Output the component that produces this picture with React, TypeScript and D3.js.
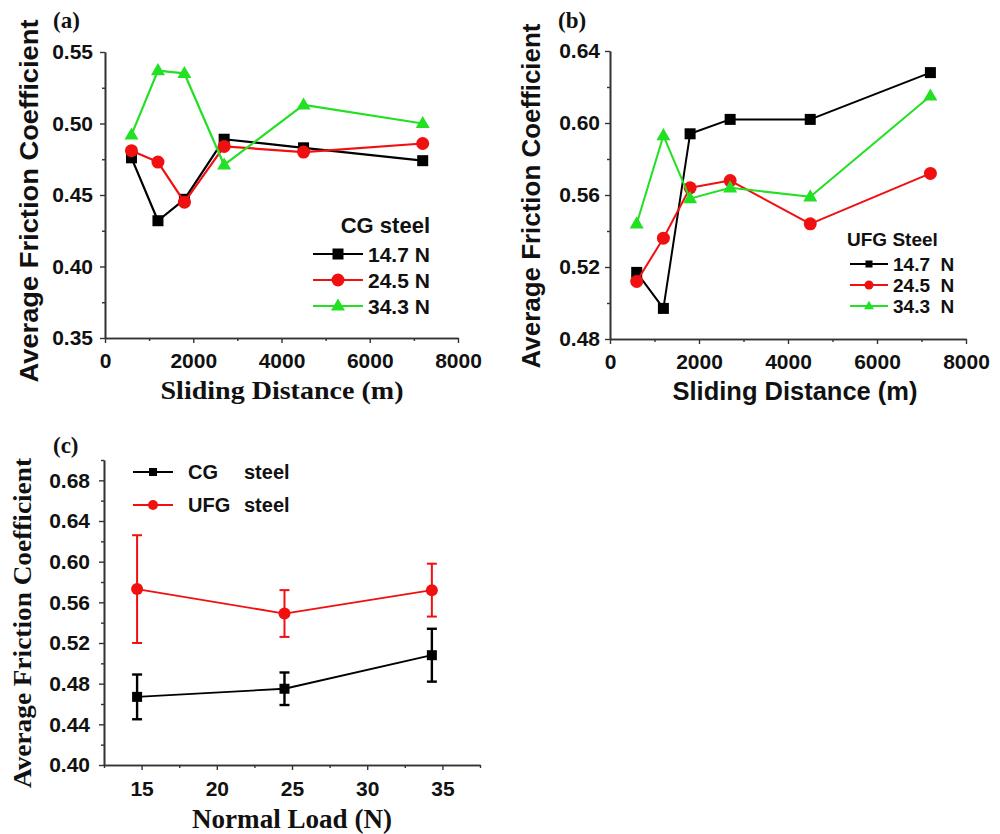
import * as d3 from "d3";
import { useEffect, useRef } from "react";

const WIDTH = 1000;
const HEIGHT = 834;

// panels (a) and (b): friction vs sliding distance
const DISTANCE = [600, 1200, 1800, 2700, 4500, 7200];
const LOAD_LABELS = ["14.7 N", "24.5 N", "34.3 N"];
const CG_147 = [0.476, 0.432, 0.447, 0.489, 0.483, 0.474];
const CG_245 = [0.481, 0.473, 0.445, 0.484, 0.48, 0.486];
const CG_343 = [0.492, 0.537, 0.535, 0.471, 0.513, 0.5];
const UFG_147 = [0.517, 0.497, 0.594, 0.602, 0.602, 0.628];
const UFG_245 = [0.512, 0.536, 0.564, 0.568, 0.544, 0.572];
const UFG_343 = [0.544, 0.593, 0.558, 0.564, 0.559, 0.615];

// panel (c): friction vs normal load
const LOADS = [14.7, 24.5, 34.3];
const STEEL_LABELS = ["CG", "UFG"];
const CG_MEAN = [0.467, 0.475, 0.508];
const CG_ERR = [0.022, 0.016, 0.026];
const UFG_MEAN = [0.573, 0.549, 0.572];
const UFG_ERR = [0.053, 0.023, 0.026];

const SANS = "Arial, 'Liberation Sans', sans-serif";
const SERIF = "'Times New Roman', 'Liberation Serif', serif";
const BLACK = "#000000";
const RED = "#f01010";
const GREEN = "#22e022";
const AXIS = "#333333";

type Sel = d3.Selection<SVGGElement, unknown, null, undefined>;

function drawMarker(g: Sel, shape: string, x: number, y: number, color: string, size: number) {
  if (shape === "square") {
    g.append("rect")
      .attr("x", x - size / 2)
      .attr("y", y - size / 2)
      .attr("width", size)
      .attr("height", size)
      .attr("fill", color);
  } else if (shape === "circle") {
    g.append("circle").attr("cx", x).attr("cy", y).attr("r", size / 2).attr("fill", color);
  } else {
    const h = (size * Math.sqrt(3)) / 2;
    g.append("path")
      .attr("d", `M${x},${y - h * 0.62}L${x + size / 2},${y + h * 0.38}L${x - size / 2},${y + h * 0.38}Z`)
      .attr("fill", color);
  }
}

function drawAxes(
  g: Sel,
  x: d3.ScaleLinear<number, number>,
  y: d3.ScaleLinear<number, number>,
  o: {
    xMajor: number[];
    xMinor: number[];
    yMajor: number[];
    yMinor: number[];
    xFmt: (d: number) => string;
    yPad: number;
    xPad: number;
  }
) {
  const [y0] = y.range();
  const [x0] = x.range();

  const minorY = g
    .append("g")
    .attr("transform", `translate(${x0},0)`)
    .call(d3.axisLeft(y).tickValues(o.yMinor).tickSize(3).tickSizeOuter(0).tickFormat(() => ""));
  const majorY = g
    .append("g")
    .attr("transform", `translate(${x0},0)`)
    .call(
      d3
        .axisLeft(y)
        .tickValues(o.yMajor)
        .tickSize(5)
        .tickSizeOuter(0)
        .tickPadding(o.yPad)
        .tickFormat((d) => d3.format(".2f")(d as number))
    );
  const minorX = g
    .append("g")
    .attr("transform", `translate(0,${y0})`)
    .call(d3.axisBottom(x).tickValues(o.xMinor).tickSize(3).tickSizeOuter(0).tickFormat(() => ""));
  const majorX = g
    .append("g")
    .attr("transform", `translate(0,${y0})`)
    .call(
      d3
        .axisBottom(x)
        .tickValues(o.xMajor)
        .tickSize(5)
        .tickSizeOuter(0)
        .tickPadding(o.xPad)
        .tickFormat((d) => o.xFmt(d as number))
    );

  for (const a of [minorY, majorY, minorX, majorX]) {
    a.select(".domain").attr("stroke", AXIS).attr("stroke-width", 1.6);
    a.selectAll(".tick line").attr("stroke", AXIS).attr("stroke-width", 1.4);
    a.selectAll(".tick text")
      .attr("fill", "#111")
      .style("font-family", SANS)
      .style("font-weight", "bold")
      .style("font-size", "21px");
  }
}

function drawSeries(
  g: Sel,
  x: d3.ScaleLinear<number, number>,
  y: d3.ScaleLinear<number, number>,
  xs: number[],
  ys: number[],
  color: string,
  shape: string,
  size: number,
  width: number
) {
  const line = d3
    .line<number>()
    .x((_, i) => x(xs[i]))
    .y((d) => y(d));
  g.append("path")
    .attr("d", line(ys) ?? "")
    .attr("fill", "none")
    .attr("stroke", color)
    .attr("stroke-width", width)
    .attr("stroke-linejoin", "round");
  ys.forEach((v, i) => drawMarker(g, shape, x(xs[i]), y(v), color, size));
}

function yTitle(g: Sel, text: string, cx: number, cy: number, len: number, size: number, font: string) {
  g.append("text")
    .attr("transform", `translate(${cx},${cy}) rotate(-90)`)
    .attr("text-anchor", "middle")
    .attr("textLength", len)
    .attr("lengthAdjust", "spacingAndGlyphs")
    .style("font-family", font)
    .style("font-weight", "bold")
    .style("font-size", `${size}px`)
    .attr("fill", "#111")
    .text(text);
}

function xTitle(g: Sel, text: string, cx: number, by: number, len: number, size: number, font: string) {
  g.append("text")
    .attr("x", cx)
    .attr("y", by)
    .attr("text-anchor", "middle")
    .attr("textLength", len)
    .attr("lengthAdjust", "spacingAndGlyphs")
    .style("font-family", font)
    .style("font-weight", "bold")
    .style("font-size", `${size}px`)
    .attr("fill", "#111")
    .text(text);
}

function panelTag(g: Sel, text: string, x: number, y: number) {
  g.append("text")
    .attr("x", x)
    .attr("y", y)
    .style("font-family", SERIF)
    .style("font-weight", "bold")
    .style("font-size", "23px")
    .attr("fill", "#111")
    .text(text);
}

export default function App() {
  const svgRef = useRef<SVGSVGElement>(null);

  useEffect(() => {
    const el = svgRef.current;
    if (!el) return;
    const svg = d3.select(el);
    svg.selectAll("*").remove();
    const root = svg.append("g") as unknown as Sel;

    const distMajor = d3.range(0, 8001, 2000);
    const distMinor = d3.range(1000, 8000, 2000);
    const shapes = ["square", "circle", "triangle"];
    const colors = [BLACK, RED, GREEN];

    // ---- (a) CG steel ----
    {
      const g = root.append("g") as Sel;
      const x = d3.scaleLinear().domain([0, 8000]).range([105, 458]);
      const y = d3.scaleLinear().domain([0.35, 0.55]).range([338, 52]);
      drawAxes(g, x, y, {
        xMajor: distMajor,
        xMinor: distMinor,
        yMajor: d3.range(0, 5).map((i) => 0.35 + i * 0.05),
        yMinor: d3.range(0, 4).map((i) => 0.375 + i * 0.05),
        xFmt: (d) => d3.format("d")(d),
        yPad: 7,
        xPad: 10,
      });
      const sizes = [11, 13, 14];
      [CG_147, CG_245, CG_343].forEach((s, k) =>
        drawSeries(g, x, y, DISTANCE, s, colors[k], shapes[k], sizes[k], 2.2)
      );
      // legend
      g.append("text")
        .attr("x", 430)
        .attr("y", 233)
        .attr("text-anchor", "end")
        .style("font-family", SANS)
        .style("font-weight", "bold")
        .style("font-size", "22px")
        .attr("fill", "#111")
        .text("CG steel");
      LOAD_LABELS.forEach((lab, k) => {
        const ly = 254 + k * 26;
        g.append("line")
          .attr("x1", 313)
          .attr("x2", 363)
          .attr("y1", ly)
          .attr("y2", ly)
          .attr("stroke", colors[k])
          .attr("stroke-width", 2.2);
        drawMarker(g, shapes[k], 338, ly, colors[k], sizes[k]);
        g.append("text")
          .attr("x", 368)
          .attr("y", ly + 8)
          .style("font-family", SANS)
          .style("font-size", "21px")
          .style("font-weight", "bold")
          .attr("fill", "#111")
          .text(lab);
      });
      yTitle(g, "Average Friction Coefficient", 38, 201, 363, 26, SANS);
      xTitle(g, "Sliding Distance (m)", 282, 399, 243, 25, SERIF);
      panelTag(g, "(a)", 53, 28);
    }

    // ---- (b) UFG steel ----
    {
      const g = root.append("g") as Sel;
      const x = d3.scaleLinear().domain([0, 8000]).range([610, 966]);
      const y = d3.scaleLinear().domain([0.48, 0.64]).range([339, 51]);
      drawAxes(g, x, y, {
        xMajor: distMajor,
        xMinor: distMinor,
        yMajor: d3.range(0, 5).map((i) => 0.48 + i * 0.04),
        yMinor: d3.range(0, 4).map((i) => 0.5 + i * 0.04),
        xFmt: (d) => d3.format("d")(d),
        yPad: 5,
        xPad: 10,
      });
      const sizes = [11, 13, 14];
      [UFG_147, UFG_245, UFG_343].forEach((s, k) =>
        drawSeries(g, x, y, DISTANCE, s, colors[k], shapes[k], sizes[k], 2)
      );
      g.append("text")
        .attr("x", 847)
        .attr("y", 246)
        .style("font-family", SANS)
        .style("font-weight", "bold")
        .style("font-size", "19px")
        .attr("fill", "#111")
        .text("UFG Steel");
      const lsizes = [7, 9, 10];
      LOAD_LABELS.forEach((lab, k) => {
        const ly = 264 + k * 21;
        g.append("line")
          .attr("x1", 850)
          .attr("x2", 888)
          .attr("y1", ly)
          .attr("y2", ly)
          .attr("stroke", colors[k])
          .attr("stroke-width", 2);
        drawMarker(g, shapes[k], 869, ly, colors[k], lsizes[k]);
        g.append("text")
          .attr("x", 893)
          .attr("y", ly + 7)
          .attr("xml:space", "preserve")
          .style("white-space", "pre")
          .style("font-family", SANS)
          .style("font-size", "19px")
          .style("font-weight", "bold")
          .attr("fill", "#111")
          .text(lab.replace(" ", "  "));
      });
      yTitle(g, "Average Friction Coefficient", 540, 196, 345, 25, SANS);
      xTitle(g, "Sliding Distance (m)", 795, 400, 245, 25, SANS);
      panelTag(g, "(b)", 558, 28);
    }

    // ---- (c) friction vs load ----
    {
      const g = root.append("g") as Sel;
      const x = d3.scaleLinear().domain([12.5, 37.5]).range([104, 480]);
      const y = d3.scaleLinear().domain([0.4, 0.7]).range([765, 460]);
      drawAxes(g, x, y, {
        xMajor: d3.range(15, 36, 5),
        xMinor: d3.range(12.5, 38, 5),
        yMajor: d3.range(0, 8).map((i) => 0.4 + i * 0.04),
        yMinor: d3.range(0, 8).map((i) => 0.42 + i * 0.04),
        xFmt: (d) => d3.format("d")(d),
        yPad: 9,
        xPad: 11,
      });
      const groups = [
        { mean: CG_MEAN, err: CG_ERR, color: BLACK, shape: "square", size: 10, w: 2.4 },
        { mean: UFG_MEAN, err: UFG_ERR, color: RED, shape: "circle", size: 12, w: 2 },
      ];
      groups.forEach((s) => {
        s.mean.forEach((m, i) => {
          const cx = x(LOADS[i]);
          const top = y(m + s.err[i]);
          const bot = y(m - s.err[i]);
          g.append("line").attr("x1", cx).attr("x2", cx).attr("y1", top).attr("y2", bot)
            .attr("stroke", s.color).attr("stroke-width", s.w);
          for (const yy of [top, bot]) {
            g.append("line").attr("x1", cx - 5).attr("x2", cx + 5).attr("y1", yy).attr("y2", yy)
              .attr("stroke", s.color).attr("stroke-width", s.w);
          }
        });
        drawSeries(g, x, y, LOADS, s.mean, s.color, s.shape, s.size, 1.8);
      });
      groups.forEach((s, k) => {
        const ly = 472 + k * 33;
        g.append("line").attr("x1", 133).attr("x2", 173).attr("y1", ly).attr("y2", ly)
          .attr("stroke", s.color).attr("stroke-width", 2);
        drawMarker(g, s.shape, 153, ly, s.color, k === 0 ? 8 : 10);
        const t = g.append("text")
          .attr("y", ly + 7)
          .style("font-family", SANS)
          .style("font-weight", "bold")
          .style("font-size", "20px")
          .attr("fill", "#111");
        t.append("tspan").attr("x", 188).text(STEEL_LABELS[k]);
        t.append("tspan").attr("x", 244).text("steel");
      });
      yTitle(g, "Average Friction Coefficient", 31, 623, 330, 25, SERIF);
      xTitle(g, "Normal Load (N)", 292, 828, 200, 27, SERIF);
      panelTag(g, "(c)", 53, 453);
    }
  }, []);

  return (
    <svg
      ref={svgRef}
      width={WIDTH}
      height={HEIGHT}
      viewBox={`0 0 ${WIDTH} ${HEIGHT}`}
      style={{ position: "absolute", left: 0, top: 0, background: "#fff", display: "block" }}
    />
  );
}
